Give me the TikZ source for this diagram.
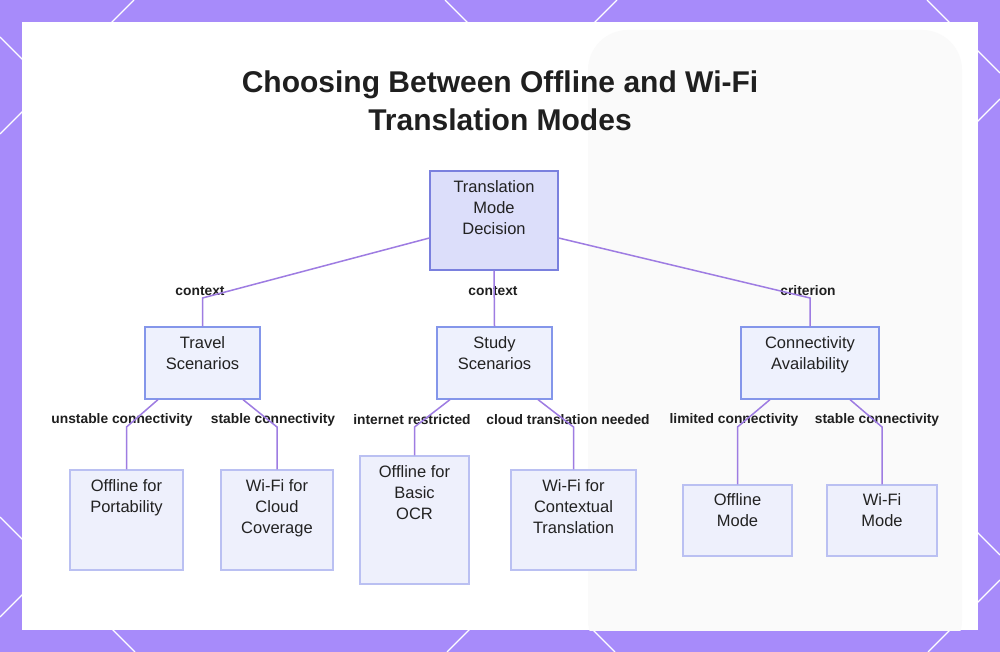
\documentclass[tikz,border=0pt]{standalone}
\usepackage{fontspec}
\setmainfont{Liberation Sans}
\usetikzlibrary{positioning}
\definecolor{bgpurple}{RGB}{167,139,250}
\definecolor{edgepurple}{RGB}{158,124,226}
\definecolor{rootfill}{RGB}{220,222,250}
\definecolor{rootline}{RGB}{122,128,222}
\definecolor{midfill}{RGB}{238,241,253}
\definecolor{midline}{RGB}{132,150,234}
\definecolor{leaffill}{RGB}{238,240,252}
\definecolor{leafline}{RGB}{186,192,242}
\definecolor{inktext}{RGB}{34,34,34}

\begin{document}
\begin{tikzpicture}[x=1pt,y=-1pt,
  box/.style={draw=midline,fill=midfill,line width=1.2pt,inner sep=0pt},
  rootbox/.style={box,draw=rootline,fill=rootfill},
  leafbox/.style={box,draw=leafline,fill=leaffill},
  txt/.style={anchor=north,align=center,inner sep=0pt,text=inktext,
    font=\fontsize{16.5}{20.8}\selectfont},
  lbl/.style={inner sep=0pt,text=black!88,font=\fontsize{13.8}{16}\selectfont\bfseries},
  link/.style={draw=edgepurple,line width=1.5pt},
  lattice/.style={draw=white,line width=1.3pt}
]
\useasboundingbox (0,0) rectangle (1000,652);
% backdrop
\fill[bgpurple] (0,0) rectangle (1000,652);
\begin{scope}
  \clip (0,0) rectangle (1000,652);
  \draw[lattice] (134,0) -- (0,134);
  \draw[lattice] (0,37) -- (615,652);
  \draw[lattice] (445,0) -- (1000,555);
  \draw[lattice] (617,0) -- (0,617);
  \draw[lattice] (927,0) -- (1000,73);
  \draw[lattice] (0,517) -- (135,652);
  \draw[lattice] (1000,99) -- (447,652);
  \draw[lattice] (1000,580) -- (928,652);
\end{scope}
\fill[white] (22,22) rectangle (978,630);
\begin{scope}
  \clip (22,22) rectangle (978,630);
  \fill[black!2,rounded corners=40pt] (588,30) rectangle (962,660);
\end{scope}

% title
\node[font=\fontsize{30}{38}\selectfont\bfseries,text=black!88,align=center] (title) at (500,101)
  {Choosing Between Offline and Wi-Fi\\Translation Modes};

% boxes
\node[rootbox,minimum width=128,minimum height=99] (root) at (494,220.5) {};
\node[box,minimum width=115,minimum height=72] (travel) at (202.5,363) {};
\node[box,minimum width=115,minimum height=72] (study) at (494.5,363) {};
\node[box,minimum width=138,minimum height=72] (conn) at (810,363) {};
\node[leafbox,minimum width=113,minimum height=100] (offPort) at (126.5,520) {};
\node[leafbox,minimum width=112,minimum height=100] (wifiCloud) at (277,520) {};
\node[leafbox,minimum width=109,minimum height=128] (offOcr) at (414.5,520) {};
\node[leafbox,minimum width=125,minimum height=100] (wifiCtx) at (573.5,520) {};
\node[leafbox,minimum width=109,minimum height=71] (offMode) at (737.5,520.5) {};
\node[leafbox,minimum width=110,minimum height=71] (wifiMode) at (882,520.5) {};

% box texts
\node[txt,below=10pt of root.north] (rootT) {Translation\\Mode\\Decision};
\node[txt,below=10pt of travel.north] (travelT) {Travel\\Scenarios};
\node[txt,below=10pt of study.north] (studyT) {Study\\Scenarios};
\node[txt,below=10pt of conn.north] (connT) {Connectivity\\Availability};
\node[txt,below=10pt of offPort.north] (offPortT) {Offline for\\Portability};
\node[txt,below=10pt of wifiCloud.north] (wifiCloudT) {Wi-Fi for\\Cloud\\Coverage};
\node[txt,below=10pt of offOcr.north] (offOcrT) {Offline for\\Basic\\OCR};
\node[txt,below=10pt of wifiCtx.north] (wifiCtxT) {Wi-Fi for\\Contextual\\Translation};
\node[txt,below=9pt of offMode.north] (offModeT) {Offline\\Mode};
\node[txt,below=9pt of wifiMode.north] (wifiModeT) {Wi-Fi\\Mode};

% edge labels
\node[lbl] (l1) at (200,291) {context};
\node[lbl] (l2) at (493,291) {context};
\node[lbl] (l3) at (808,291) {criterion};
\node[lbl] (l4) at (122,420) {unstable connectivity};
\node[lbl] (l5) at (273,420) {stable connectivity};
\node[lbl] (l6) at (412,420) {internet restricted};
\node[lbl] (l7) at (568,420) {cloud translation needed};
\node[lbl] (l8) at (734,420) {limited connectivity};
\node[lbl] (l9) at (877,420) {stable connectivity};

% connectors
\draw[link] ([yshift=-17.5pt]root.west) -- (202.5,298) -- (travel.north);
\draw[link] (root.south) -- (study.north);
\draw[link] ([yshift=-17.5pt]root.east) -- (810,298) -- (conn.north);
\draw[link] ([xshift=-44.5pt]travel.south) -- (126.5,427) -- (offPort.north);
\draw[link] ([xshift=40.5pt]travel.south) -- (277,427) -- (wifiCloud.north);
\draw[link] ([xshift=-44.5pt]study.south) -- (414.5,427) -- (offOcr.north);
\draw[link] ([xshift=43.5pt]study.south) -- (573.5,427) -- (wifiCtx.north);
\draw[link] ([xshift=-40pt]conn.south) -- (737.5,427) -- (offMode.north);
\draw[link] ([xshift=40pt]conn.south) -- (882,427) -- (wifiMode.north);
\end{tikzpicture}
\end{document}
